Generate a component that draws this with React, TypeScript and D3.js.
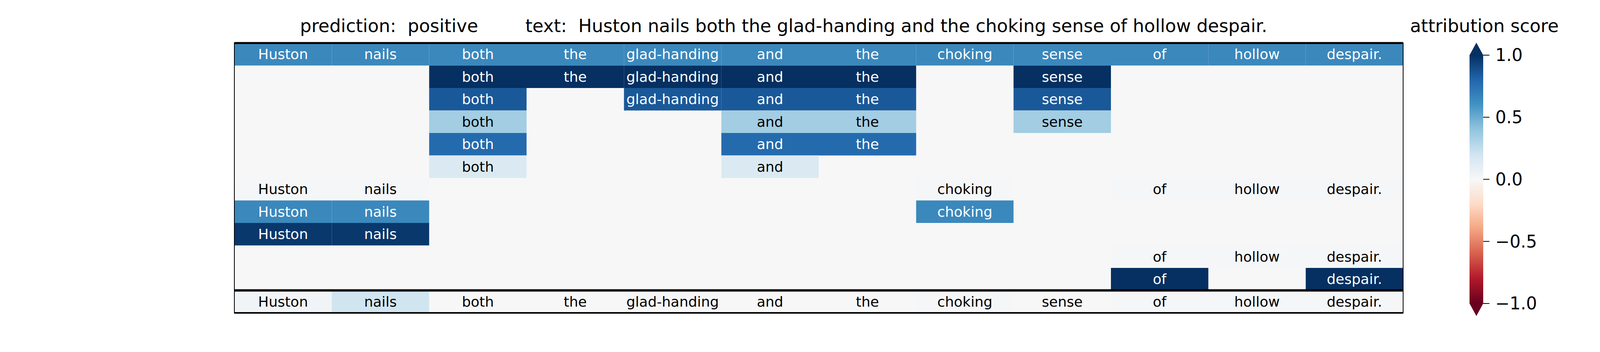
import React from "react";
import * as d3 from "d3";

const tokens = ["Huston", "nails", "both", "the", "glad-handing", "and", "the", "choking", "sense", "of", "hollow", "despair."];

// null = empty cell (no token shown)
const N = null;
const rows: (number | null)[][] = [
  [0.65, 0.65, 0.65, 0.65, 0.65, 0.65, 0.65, 0.65, 0.65, 0.65, 0.65, 0.65],
  [N, N, 1.0, 1.0, 1.0, 1.0, 1.0, N, 1.0, N, N, N],
  [N, N, 0.85, N, 0.85, 0.85, 0.85, N, 0.85, N, N, N],
  [N, N, 0.35, N, N, 0.35, 0.35, N, 0.35, N, N, N],
  [N, N, 0.78, N, N, 0.78, 0.78, N, N, N, N, N],
  [N, N, 0.15, N, N, 0.15, N, N, N, N, N, N],
  [0.01, 0.01, N, N, N, N, N, 0.01, N, 0.01, 0.01, 0.01],
  [0.65, 0.65, N, N, N, N, N, 0.65, N, N, N, N],
  [0.97, 0.97, N, N, N, N, N, N, N, N, N, N],
  [N, N, N, N, N, N, N, N, N, 0.01, 0.01, 0.01],
  [N, N, N, N, N, N, N, N, N, 1.0, N, 1.0],
  [0.03, 0.2, 0.0, 0.0, 0.01, 0.0, 0.0, 0.01, 0.0, 0.01, 0.01, 0.01],
];

const cbTicks = [1.0, 0.5, 0.0, -0.5, -1.0];

// matplotlib RdBu colour stops
const rdbu = ["#67001f", "#b2182b", "#d6604d", "#f4a582", "#fddbc7", "#f7f7f7", "#d1e5f0", "#92c5de", "#4393c3", "#2166ac", "#053061"];

const W = 4800, H = 900;
const gx0 = 600, gx1 = 3592, gy0 = 110, gy1 = 800;
const cbX = 3762, cbW = 35, cbTop = 141, cbBot = 776;
const font = "DejaVu Sans, sans-serif";

export default function App() {
  const color = d3
    .scaleLinear<string>()
    .domain(d3.range(rdbu.length).map((i) => -1 + (2 * i) / (rdbu.length - 1)))
    .range(rdbu)
    .interpolate(d3.interpolateRgb)
    .clamp(true);
  const x = d3.scaleBand<number>().domain(d3.range(tokens.length)).range([gx0, gx1]);
  const y = d3.scaleBand<number>().domain(d3.range(rows.length)).range([gy0, gy1]);
  const cy = d3.scaleLinear().domain([-1, 1]).range([cbBot, cbTop]);
  const stops = d3.range(0, 1.0001, 0.05);
  const sepY = y(rows.length - 1)!;

  return (
    <svg width={W} height={H} style={{ position: "absolute", left: 0, top: 0 }} fontFamily={font}>
      <rect width={W} height={H} fill="#fff" />
      <defs>
        <linearGradient id="cb" x1="0" y1="1" x2="0" y2="0">
          {stops.map((s) => (
            <stop key={s} offset={s} stopColor={color(-1 + 2 * s)} />
          ))}
        </linearGradient>
      </defs>

      <text x={768} y={82} fontSize={46} style={{ whiteSpace: "pre" }}>
        {"prediction:  positive"}
      </text>
      <text x={1345} y={82} fontSize={46} style={{ whiteSpace: "pre" }}>
        {"text:  " + tokens.join(" ")}
      </text>
      <text x={3800} y={82} fontSize={46} textAnchor="middle">attribution score</text>

      <rect x={gx0} y={gy0} width={gx1 - gx0} height={gy1 - gy0} fill={color(0)} />
      {rows.map((r, i) =>
        r.map((v, j) =>
          v === null ? null : (
            <g key={`${i}-${j}`}>
              <rect x={x(j)} y={y(i)} width={x.bandwidth()} height={y.bandwidth()} fill={color(v)} />
              <text
                x={x(j)! + x.bandwidth() / 2}
                y={y(i)! + y.bandwidth() / 2}
                dy="0.35em"
                textAnchor="middle"
                fontSize={36}
                fill={Math.abs(v) > 0.5 ? "#fff" : "#000"}
              >
                {tokens[j]}
              </text>
            </g>
          )
        )
      )}
      <rect x={gx0} y={gy0} width={gx1 - gx0} height={gy1 - gy0} fill="none" stroke="#000" strokeWidth={2} />
      <line x1={gx0} x2={gx1} y1={gy0} y2={gy0} stroke="#000" strokeWidth={5} />
      <line x1={gx0} x2={gx1} y1={sepY} y2={sepY} stroke="#000" strokeWidth={6} />
      <line x1={gx0} x2={gx1} y1={gy1} y2={gy1} stroke="#000" strokeWidth={4} />

      <rect x={cbX} y={cbTop} width={cbW} height={cbBot - cbTop} fill="url(#cb)" />
      <path d={`M${cbX},${cbTop} L${cbX + cbW / 2},${cbTop - 32} L${cbX + cbW},${cbTop} Z`} fill={color(1)} />
      <path d={`M${cbX},${cbBot} L${cbX + cbW / 2},${cbBot + 32} L${cbX + cbW},${cbBot} Z`} fill={color(-1)} />
      {cbTicks.map((t) => (
        <g key={t}>
          <line x1={cbX + cbW} x2={cbX + cbW + 16} y1={cy(t)} y2={cy(t)} stroke="#000" strokeWidth={2} />
          <text x={cbX + cbW + 31} y={cy(t)} dy="0.35em" fontSize={44}>
            {d3.format(".1f")(t).replace("-", "\u2212")}
          </text>
        </g>
      ))}
    </svg>
  );
}
